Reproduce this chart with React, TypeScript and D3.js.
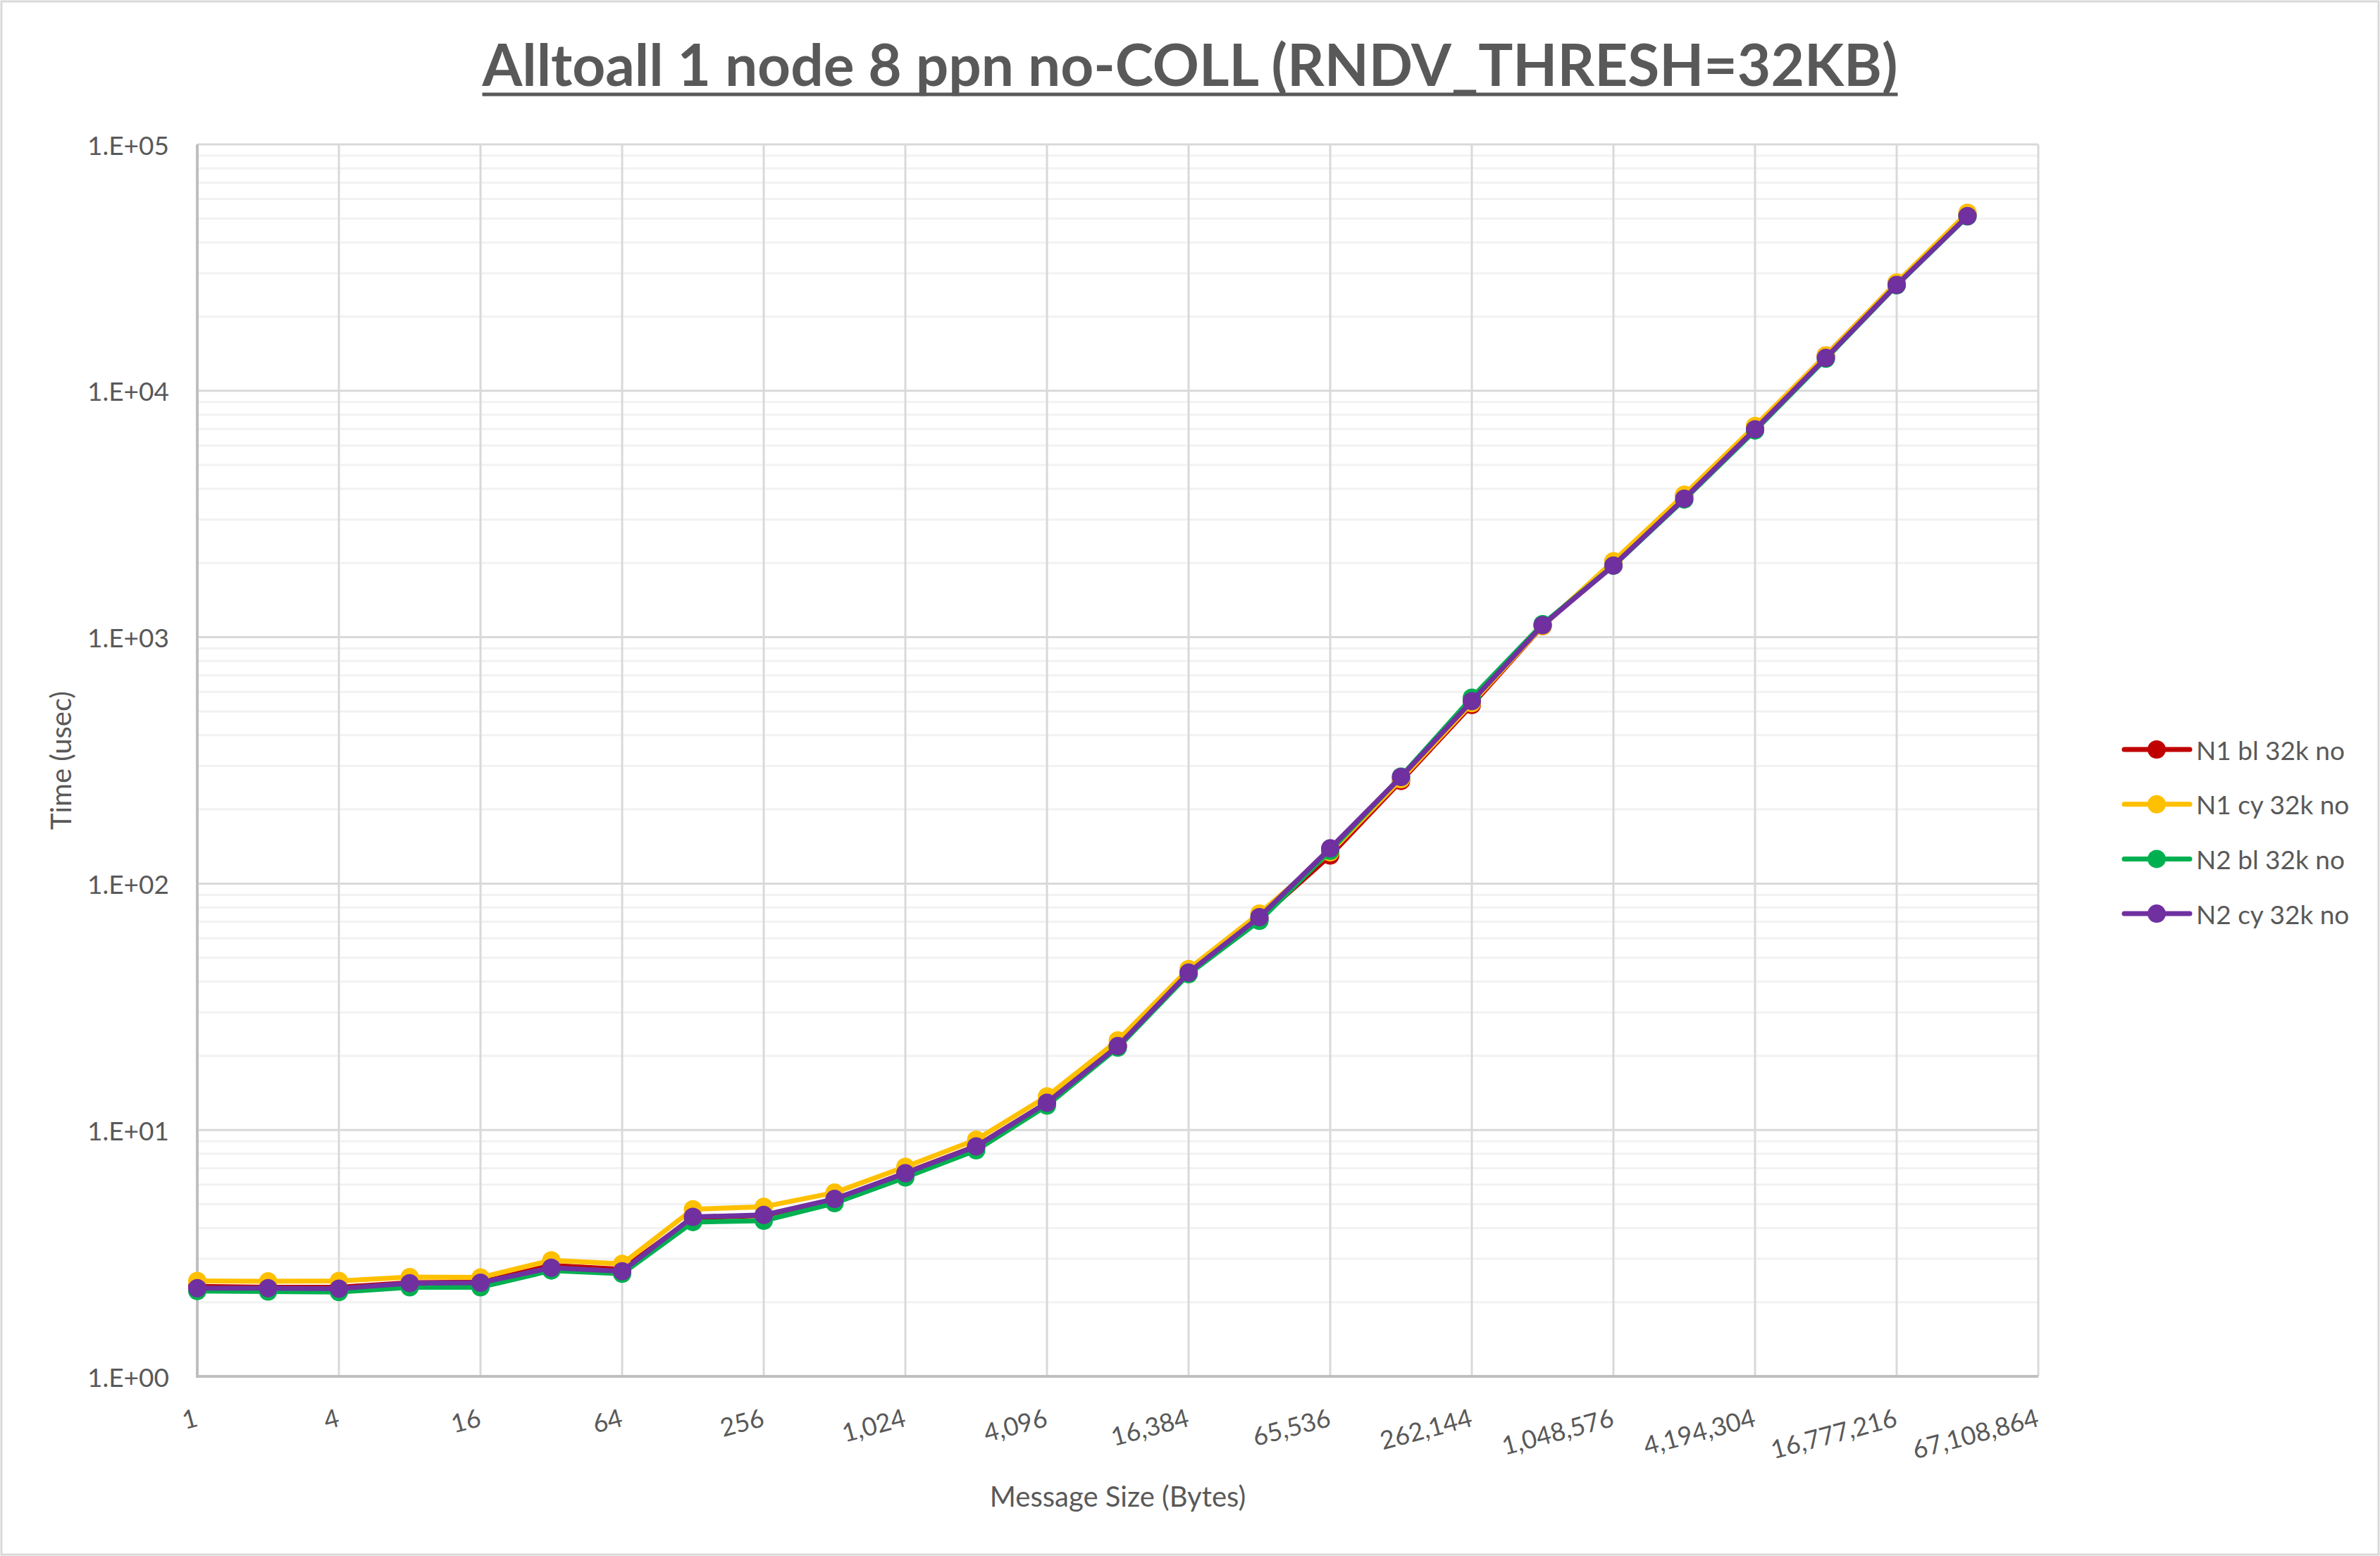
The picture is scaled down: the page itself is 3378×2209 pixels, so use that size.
import React, { useEffect, useRef } from 'react';
import * as d3 from 'd3';

const categories = [
  '1', '2', '4', '8', '16', '32', '64', '128', '256', '512', '1,024', '2,048', '4,096', '8,192',
  '16,384', '32,768', '65,536', '131,072', '262,144', '524,288', '1,048,576', '2,097,152',
  '4,194,304', '8,388,608', '16,777,216', '33,554,432', '67,108,864',
];

const n1bl = [2.32, 2.30, 2.30, 2.40, 2.41, 2.82, 2.72, 4.40, 4.50, 5.20, 6.70, 8.60, 12.9, 22.0,
  43.5, 72.0, 130, 261, 531, 1110, 2020, 3760, 7150, 13900, 27400, 52000];
const n1cy = [2.44, 2.43, 2.44, 2.53, 2.52, 2.96, 2.86, 4.77, 4.88, 5.57, 7.09, 9.13, 13.7, 23.1,
  45.0, 75.6, 134, 265, 540, 1110, 2035, 3790, 7200, 13900, 27500, 52800];
const n2bl = [2.22, 2.21, 2.20, 2.30, 2.30, 2.69, 2.61, 4.23, 4.28, 5.05, 6.42, 8.27, 12.56, 21.6,
  42.9, 70.6, 136, 272, 568, 1130, 1950, 3620, 6900, 13500, 26800, 51000];
const n2cy = [2.28, 2.28, 2.27, 2.39, 2.40, 2.76, 2.67, 4.44, 4.52, 5.25, 6.68, 8.58, 12.9, 21.9,
  43.5, 73.1, 139, 271, 550, 1119, 1953, 3650, 6980, 13600, 26900, 51200];

const seriesNames = ['N1 bl 32k no', 'N1 cy 32k no', 'N2 bl 32k no', 'N2 cy 32k no'];
const seriesColors = ['#C00000', '#FFC000', '#00B050', '#7030A0'];
const yTicks = [1, 10, 100, 1000, 10000, 100000];

const W = 3378;
const H = 2209;
const FONT = "Lato, 'Open Sans', sans-serif";
const TEXT = '#595959';

export default function App() {
  const svgRef = useRef<SVGSVGElement>(null);

  useEffect(() => {
    if (!svgRef.current) return;
    const svg = d3.select(svgRef.current);
    svg.selectAll('*').remove();

    const left = 280, right = 2893, top = 205, bottom = 1954;

    const x = d3.scalePoint<string>().domain(categories).range([left, right]).padding(0);
    const y = d3.scaleLog().domain([1, 1e5]).range([bottom, top]);

    // chart area
    svg.append('rect')
      .attr('x', 2).attr('y', 2).attr('width', W - 4).attr('height', H - 4)
      .attr('fill', '#fff').attr('stroke', '#d9d9d9').attr('stroke-width', 3);

    // minor gridlines
    const minor: number[] = [];
    for (let k = 0; k < 5; k++) for (let m = 2; m <= 9; m++) minor.push(m * Math.pow(10, k));
    svg.append('g').selectAll('line').data(minor).join('line')
      .attr('x1', left).attr('x2', right)
      .attr('y1', d => y(d)).attr('y2', d => y(d))
      .attr('stroke', '#f2f2f2').attr('stroke-width', 3);

    // major gridlines
    svg.append('g').selectAll('line').data(yTicks.slice(1)).join('line')
      .attr('x1', left).attr('x2', right)
      .attr('y1', d => y(d)).attr('y2', d => y(d))
      .attr('stroke', '#d9d9d9').attr('stroke-width', 3);

    const labelled = categories.filter((_, i) => i % 2 === 0);
    svg.append('g').selectAll('line').data(labelled.slice(1)).join('line')
      .attr('x1', d => x(d)!).attr('x2', d => x(d)!)
      .attr('y1', top).attr('y2', bottom)
      .attr('stroke', '#d9d9d9').attr('stroke-width', 3);

    // axes lines
    svg.append('line').attr('x1', left).attr('x2', left).attr('y1', top).attr('y2', bottom)
      .attr('stroke', '#bfbfbf').attr('stroke-width', 4);
    svg.append('line').attr('x1', left - 2).attr('x2', right).attr('y1', bottom).attr('y2', bottom)
      .attr('stroke', '#bfbfbf').attr('stroke-width', 4);

    // y tick labels
    svg.append('g').selectAll('text').data(yTicks).join('text')
      .attr('x', 240).attr('y', d => y(d))
      .attr('text-anchor', 'end').attr('dominant-baseline', 'central')
      .attr('font-family', FONT).attr('font-size', 37).attr('fill', TEXT)
      .text(d => d3.format('.0e')(d).replace('e', '.E').replace(/E([+-])(\d)$/, 'E$10$2'));

    // x tick labels
    svg.append('g').selectAll('text').data(labelled).join('text')
      .attr('transform', d => `translate(${x(d)! - 4},${1999}) rotate(-15)`)
      .attr('text-anchor', 'end').attr('dy', '0.72em')
      .attr('font-family', FONT).attr('font-size', 36).attr('fill', TEXT)
      .text(d => d);

    // series
    const all = [n1bl, n1cy, n2bl, n2cy];
    const line = d3.line<number>()
      .x((_, i) => x(categories[i])!)
      .y(d => y(d));

    all.forEach((vals, s) => {
      const g = svg.append('g');
      g.append('path').datum(vals)
        .attr('d', line)
        .attr('fill', 'none').attr('stroke', seriesColors[s])
        .attr('stroke-width', 7).attr('stroke-linejoin', 'round').attr('stroke-linecap', 'round');
      g.selectAll('circle').data(vals).join('circle')
        .attr('cx', (_, i) => x(categories[i])!).attr('cy', d => y(d))
        .attr('r', 13).attr('fill', seriesColors[s]);
    });

    // title
    const tw = 2009;
    svg.append('text')
      .attr('x', W / 2).attr('y', 122)
      .attr('text-anchor', 'middle')
      .attr('font-family', FONT).attr('font-size', 82).attr('font-weight', 700).attr('fill', TEXT)
      .attr('textLength', tw).attr('lengthAdjust', 'spacingAndGlyphs')
      .text('Alltoall 1 node 8 ppn no-COLL (RNDV_THRESH=32KB)');
    svg.append('line')
      .attr('x1', W / 2 - tw / 2).attr('x2', W / 2 + tw / 2)
      .attr('y1', 134).attr('y2', 134)
      .attr('stroke', TEXT).attr('stroke-width', 5);

    // axis titles
    svg.append('text')
      .attr('transform', `translate(86,${(top + bottom) / 2}) rotate(-90)`)
      .attr('text-anchor', 'middle').attr('dominant-baseline', 'central')
      .attr('font-family', FONT).attr('font-size', 40).attr('fill', TEXT)
      .text('Time (usec)');
    svg.append('text')
      .attr('x', (left + right) / 2).attr('y', 2124)
      .attr('text-anchor', 'middle').attr('dominant-baseline', 'central')
      .attr('font-family', FONT).attr('font-size', 40).attr('fill', TEXT)
      .text('Message Size (Bytes)');

    // legend
    const legend = svg.append('g');
    seriesNames.forEach((name, i) => {
      const ly = 1064 + i * 77.7;
      const item = legend.append('g').attr('transform', `translate(0,${ly})`);
      item.append('line').attr('x1', 3015).attr('x2', 3108).attr('y1', 0).attr('y2', 0)
        .attr('stroke', seriesColors[i]).attr('stroke-width', 7).attr('stroke-linecap', 'round');
      item.append('circle').attr('cx', 3061).attr('cy', 0).attr('r', 13).attr('fill', seriesColors[i]);
      item.append('text').attr('x', 3117).attr('y', 0)
        .attr('dominant-baseline', 'central')
        .attr('font-family', FONT).attr('font-size', 37).attr('fill', TEXT)
        .text(name);
    });
  }, []);

  return (
    <svg
      ref={svgRef}
      width={W}
      height={H}
      style={{ position: 'absolute', left: 0, top: 0, display: 'block' }}
    />
  );
}
